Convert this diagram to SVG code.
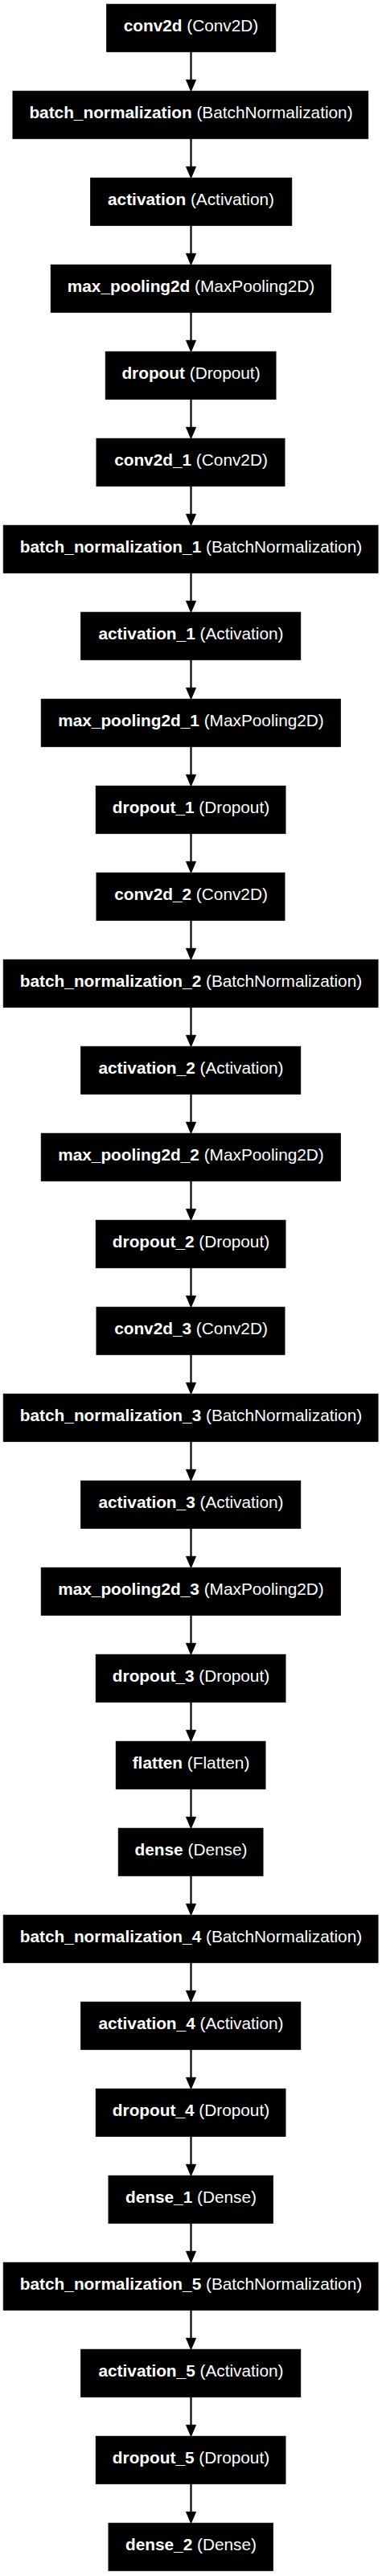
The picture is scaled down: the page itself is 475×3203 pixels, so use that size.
<svg xmlns="http://www.w3.org/2000/svg" xmlns:xlink="http://www.w3.org/1999/xlink" width="475" height="3203" viewBox="0 0 475 3203">
<style>
.box{fill:#000;stroke:#000;stroke-width:1}
.lbl{font-family:"Liberation Sans",Arial,sans-serif;font-size:20.8px;fill:#fff;text-anchor:middle}
.b{font-weight:bold}
</style>
<defs>
<g id="arr"><line x1="237.5" y1="64.3" x2="237.5" y2="100" stroke="#000" stroke-width="2.2"/><polygon points="237.5,113.3 231.5,99.3 243.5,99.3" fill="#000" stroke="#000" stroke-width="1"/></g>
</defs>
<rect width="475" height="3203" fill="#fff"/>
<g id="connectors">
<use xlink:href="#arr" y="0"/><use xlink:href="#arr" y="108"/><use xlink:href="#arr" y="216"/><use xlink:href="#arr" y="324"/><use xlink:href="#arr" y="432"/>
<use xlink:href="#arr" y="540"/><use xlink:href="#arr" y="648"/><use xlink:href="#arr" y="756"/><use xlink:href="#arr" y="864"/><use xlink:href="#arr" y="972"/>
<use xlink:href="#arr" y="1080"/><use xlink:href="#arr" y="1188"/><use xlink:href="#arr" y="1296"/><use xlink:href="#arr" y="1404"/><use xlink:href="#arr" y="1512"/>
<use xlink:href="#arr" y="1620"/><use xlink:href="#arr" y="1728"/><use xlink:href="#arr" y="1836"/><use xlink:href="#arr" y="1944"/><use xlink:href="#arr" y="2052"/>
<use xlink:href="#arr" y="2160"/><use xlink:href="#arr" y="2268"/><use xlink:href="#arr" y="2376"/><use xlink:href="#arr" y="2484"/><use xlink:href="#arr" y="2592"/>
<use xlink:href="#arr" y="2700"/><use xlink:href="#arr" y="2808"/><use xlink:href="#arr" y="2916"/><use xlink:href="#arr" y="3024"/>
</g>
<g id="n0"><rect class="box" x="132.7" y="5.3" width="210" height="59"/><text class="lbl" x="237.5" y="38.5"><tspan class="b">conv2d</tspan> (Conv2D)</text></g>
<g id="n1"><rect class="box" x="16" y="113.3" width="441.7" height="59"/><text class="lbl" x="237.5" y="146.5"><tspan class="b">batch_normalization</tspan> (BatchNormalization)</text></g>
<g id="n2"><rect class="box" x="112.7" y="221.3" width="250" height="59"/><text class="lbl" x="237.5" y="254.5"><tspan class="b">activation</tspan> (Activation)</text></g>
<g id="n3"><rect class="box" x="63.3" y="329.3" width="348" height="59"/><text class="lbl" x="237.5" y="362.5"><tspan class="b">max_pooling2d</tspan> (MaxPooling2D)</text></g>
<g id="n4"><rect class="box" x="131.3" y="437.3" width="211.7" height="59"/><text class="lbl" x="237.5" y="470.5"><tspan class="b">dropout</tspan> (Dropout)</text></g>
<g id="n5"><rect class="box" x="120" y="545.3" width="234" height="59"/><text class="lbl" x="237.5" y="578.5"><tspan class="b">conv2d_1</tspan> (Conv2D)</text></g>
<g id="n6"><rect class="box" x="4.3" y="653.3" width="465.7" height="59"/><text class="lbl" x="237.5" y="686.5"><tspan class="b">batch_normalization_1</tspan> (BatchNormalization)</text></g>
<g id="n7"><rect class="box" x="100.7" y="761.3" width="273" height="59"/><text class="lbl" x="237.5" y="794.5"><tspan class="b">activation_1</tspan> (Activation)</text></g>
<g id="n8"><rect class="box" x="51.3" y="869.3" width="372" height="59"/><text class="lbl" x="237.5" y="902.5"><tspan class="b">max_pooling2d_1</tspan> (MaxPooling2D)</text></g>
<g id="n9"><rect class="box" x="119.3" y="977.3" width="235.7" height="59"/><text class="lbl" x="237.5" y="1010.5"><tspan class="b">dropout_1</tspan> (Dropout)</text></g>
<g id="n10"><rect class="box" x="120" y="1085.3" width="234" height="59"/><text class="lbl" x="237.5" y="1118.5"><tspan class="b">conv2d_2</tspan> (Conv2D)</text></g>
<g id="n11"><rect class="box" x="4.3" y="1193.3" width="465.7" height="59"/><text class="lbl" x="237.5" y="1226.5"><tspan class="b">batch_normalization_2</tspan> (BatchNormalization)</text></g>
<g id="n12"><rect class="box" x="100.7" y="1301.3" width="273" height="59"/><text class="lbl" x="237.5" y="1334.5"><tspan class="b">activation_2</tspan> (Activation)</text></g>
<g id="n13"><rect class="box" x="51.3" y="1409.3" width="372" height="59"/><text class="lbl" x="237.5" y="1442.5"><tspan class="b">max_pooling2d_2</tspan> (MaxPooling2D)</text></g>
<g id="n14"><rect class="box" x="119.3" y="1517.3" width="235.7" height="59"/><text class="lbl" x="237.5" y="1550.5"><tspan class="b">dropout_2</tspan> (Dropout)</text></g>
<g id="n15"><rect class="box" x="120" y="1625.3" width="234" height="59"/><text class="lbl" x="237.5" y="1658.5"><tspan class="b">conv2d_3</tspan> (Conv2D)</text></g>
<g id="n16"><rect class="box" x="4.3" y="1733.3" width="465.7" height="59"/><text class="lbl" x="237.5" y="1766.5"><tspan class="b">batch_normalization_3</tspan> (BatchNormalization)</text></g>
<g id="n17"><rect class="box" x="100.7" y="1841.3" width="273" height="59"/><text class="lbl" x="237.5" y="1874.5"><tspan class="b">activation_3</tspan> (Activation)</text></g>
<g id="n18"><rect class="box" x="51.3" y="1949.3" width="372" height="59"/><text class="lbl" x="237.5" y="1982.5"><tspan class="b">max_pooling2d_3</tspan> (MaxPooling2D)</text></g>
<g id="n19"><rect class="box" x="119.3" y="2057.3" width="235.7" height="59"/><text class="lbl" x="237.5" y="2090.5"><tspan class="b">dropout_3</tspan> (Dropout)</text></g>
<g id="n20"><rect class="box" x="144.3" y="2165.3" width="185.7" height="59"/><text class="lbl" x="237.5" y="2198.5"><tspan class="b">flatten</tspan> (Flatten)</text></g>
<g id="n21"><rect class="box" x="147.3" y="2273.3" width="179.7" height="59"/><text class="lbl" x="237.5" y="2306.5"><tspan class="b">dense</tspan> (Dense)</text></g>
<g id="n22"><rect class="box" x="4.3" y="2381.3" width="465.7" height="59"/><text class="lbl" x="237.5" y="2414.5"><tspan class="b">batch_normalization_4</tspan> (BatchNormalization)</text></g>
<g id="n23"><rect class="box" x="100.7" y="2489.3" width="273" height="59"/><text class="lbl" x="237.5" y="2522.5"><tspan class="b">activation_4</tspan> (Activation)</text></g>
<g id="n24"><rect class="box" x="119.3" y="2597.3" width="235.7" height="59"/><text class="lbl" x="237.5" y="2630.5"><tspan class="b">dropout_4</tspan> (Dropout)</text></g>
<g id="n25"><rect class="box" x="135" y="2705.3" width="204.3" height="59"/><text class="lbl" x="237.5" y="2738.5"><tspan class="b">dense_1</tspan> (Dense)</text></g>
<g id="n26"><rect class="box" x="4.3" y="2813.3" width="465.7" height="59"/><text class="lbl" x="237.5" y="2846.5"><tspan class="b">batch_normalization_5</tspan> (BatchNormalization)</text></g>
<g id="n27"><rect class="box" x="100.7" y="2921.3" width="273" height="59"/><text class="lbl" x="237.5" y="2954.5"><tspan class="b">activation_5</tspan> (Activation)</text></g>
<g id="n28"><rect class="box" x="119.3" y="3029.3" width="235.7" height="59"/><text class="lbl" x="237.5" y="3062.5"><tspan class="b">dropout_5</tspan> (Dropout)</text></g>
<g id="n29"><rect class="box" x="135" y="3137.3" width="204.3" height="59"/><text class="lbl" x="237.5" y="3170.5"><tspan class="b">dense_2</tspan> (Dense)</text></g>
</svg>
